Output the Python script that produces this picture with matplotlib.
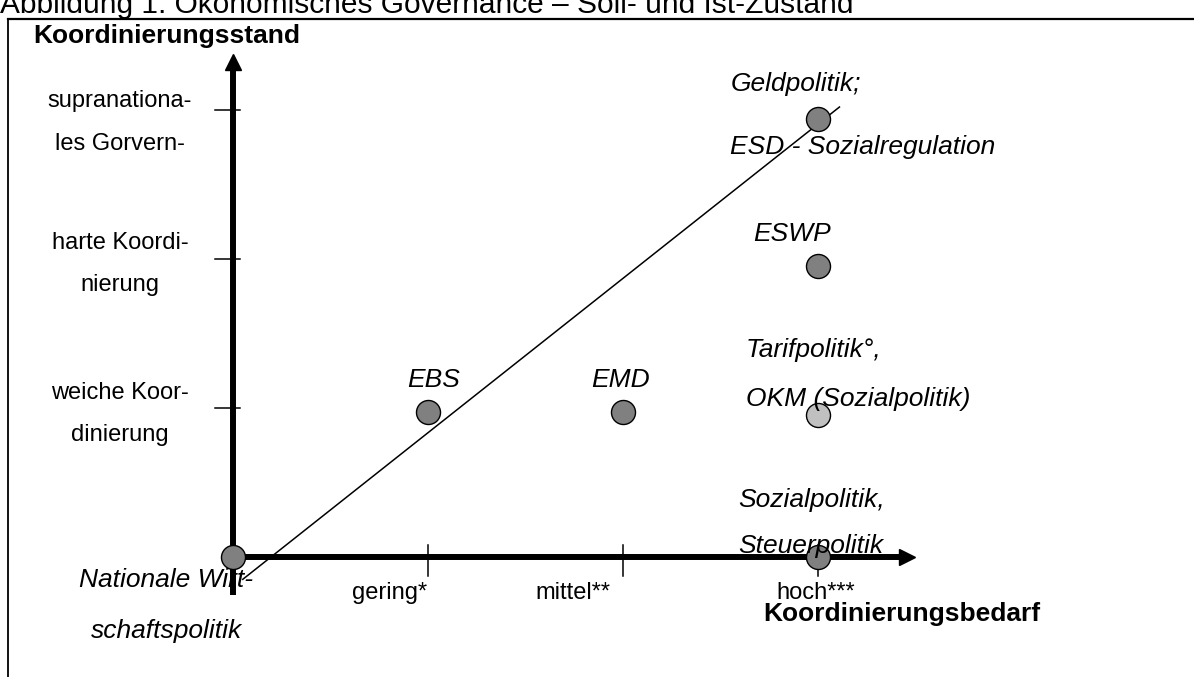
"""Governance chart: Koordinierungsbedarf vs. Koordinierungsstand."""

import matplotlib
matplotlib.use("Agg")
import matplotlib.pyplot as plt
from matplotlib.lines import Line2D

plt.rcParams["font.family"] = ["Liberation Sans", "DejaVu Sans"]

# axis categories
x_ticks = [1, 2, 3]
x_labels = ["gering*", "mittel**", "hoch***"]
y_ticks = [1, 2, 3]
y_labels = ["weiche Koor-\ndinierung", "harte Koordi-\nnierung",
            "supranationa-\nles Gorvern-"]

# policy fields: need (x) and current state (y)
names = ["Nationale Wirt-\nschaftspolitik", "EBS", "EMD",
         "Geldpolitik;\nESD - Sozialregulation", "ESWP",
         "Tarifpolitik°,\nOKM (Sozialpolitik)", "Sozialpolitik,\nSteuerpolitik"]
need = [0, 1, 2, 3, 3, 3, 3]
state = [0, 0.97, 0.97, 2.94, 1.95, 0.95, 0]
fills = ["#808080", "#808080", "#808080", "#808080", "#808080", "#c0c0c0", "#808080"]

# target line (Soll)
soll_x = [0.05, 3.11]
soll_y = [-0.15, 3.02]

W, H, DPI = 1194, 677, 100
FS = 19


def main():
    fig = plt.figure(figsize=(W / DPI, H / DPI), dpi=DPI)
    ax = fig.add_axes([0, 0, 1, 1])
    # origin at pixel (233, 557), 195 px per x unit, 149 px per y unit
    ax.set_xlim(-233 / 195, (W - 233) / 195)
    ax.set_ylim((557 - H) / 149, 557 / 149)
    ax.axis("off")

    # frame + cut-off caption
    fig.add_artist(Line2D([8 / W, 8 / W], [0, 1 - 19 / H], lw=1.3, color="black"))
    fig.add_artist(Line2D([8 / W, 1], [1 - 19 / H, 1 - 19 / H], lw=1.6, color="black"))
    fig.text(0.0, 1 - 13 / H, "Abbildung 1: Ökonomisches Governance – Soll- und Ist-Zustand",
             fontsize=21.5, va="baseline", ha="left")

    # axes with arrows
    ax.plot([0, 0], [-0.255, 3.31], color="black", lw=4.3, solid_capstyle="butt", zorder=3)
    ax.plot([0], [3.32], marker="^", ms=12, color="black", zorder=3)
    ax.plot([0, 3.45], [0, 0], color="black", lw=4.3, solid_capstyle="butt", zorder=3)
    ax.plot([3.455], [0], marker=">", ms=12, color="black", zorder=3)

    y_lab_dy = [-4.5, -3.5, -9]
    for t, lab, dy in zip(y_ticks, y_labels, y_lab_dy):
        ax.plot([-0.092, 0.036], [t, t], color="black", lw=1.1, zorder=3)
        ax.annotate(lab, (-0.58, t), xytext=(0, dy), textcoords="offset points",
                    ha="center", va="center", fontsize=17, linespacing=2.2)

    x_lab_dx = [-28, -36, -2]
    for t, lab, dx in zip(x_ticks, x_labels, x_lab_dx):
        ax.plot([t, t], [0.08, -0.128], color="black", lw=1.1, zorder=3)
        ax.annotate(lab, (t, 0), xytext=(dx, -26), textcoords="offset points",
                    ha="center", va="center", fontsize=17)

    fig.text(33 / W, 1 - 43 / H, "Koordinierungsstand", fontsize=FS,
             fontweight="bold", va="baseline", ha="left")
    fig.text(763 / W, 1 - 614 / H, "Koordinierungsbedarf", fontsize=FS,
             fontweight="bold", va="center", ha="left")

    # Soll line and points
    ax.plot(soll_x, soll_y, color="black", lw=1.1, zorder=4)
    for x, y, c in zip(need, state, fills):
        ax.plot(x, y, marker="o", ms=17.3, mfc=c, mec="black", mew=1.0, zorder=5)

    # point labels: offset (points), alignment, line spacing, zorder
    offsets = [(-48, -35), (4, 23.5), (-2, 23.5), (-63, 2.5),
               (-19, 23.5), (-52, 29.5), (-57.6, 24.5)]
    aligns = ["center", "center", "center", "left", "center", "left", "left"]
    spacing = [2.4, 1.0, 1.0, 3.1, 1.0, 2.35, 2.2]
    zord = [1, 6, 6, 6, 6, 6, 6]
    for i, name in enumerate(names):
        ax.annotate(name, (need[i], state[i]), xytext=offsets[i],
                    textcoords="offset points", ha=aligns[i], va="center",
                    fontsize=FS, style="italic", linespacing=spacing[i],
                    multialignment=aligns[i], zorder=zord[i])

    fig.savefig("out.png", dpi=DPI)
    plt.close(fig)


if __name__ == "__main__":
    main()
